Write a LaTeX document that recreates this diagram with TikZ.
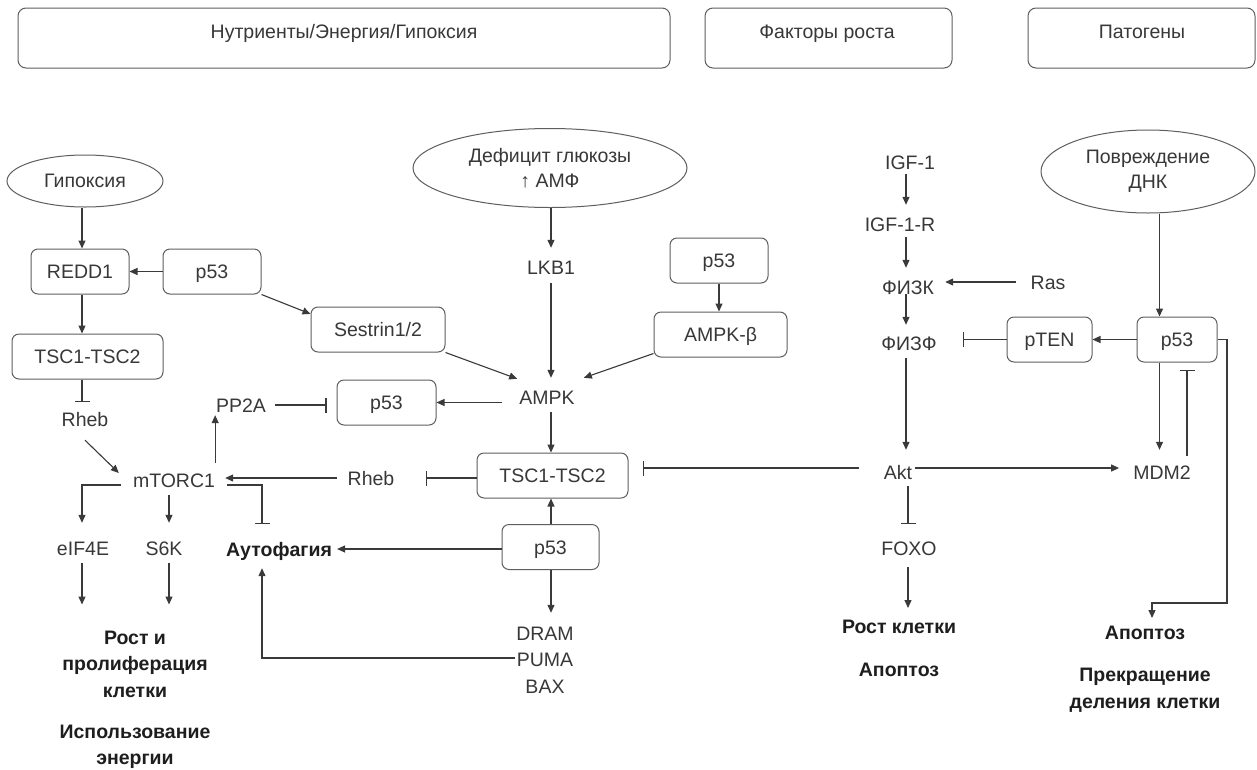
\documentclass[tikz,border=0pt]{standalone}
\usepackage{fontspec}
\setmainfont{Liberation Sans}
\usetikzlibrary{shapes.geometric,arrows.meta,calc}
\definecolor{txtc}{HTML}{383838}
\definecolor{btxt}{HTML}{1E1E1E}
\definecolor{linec}{HTML}{3A3A3A}
\definecolor{boxc}{HTML}{5E5E5E}
\newcommand\lblfont{\fontsize{19.5}{25}\selectfont}
\newcommand\blbfont{\fontsize{19.5}{26.5}\selectfont\bfseries}
\begin{document}
\begin{tikzpicture}[x=1pt,y=-1pt,
 box/.style={draw=boxc, rounded corners=7pt, line width=1pt, minimum height=45pt, inner sep=0pt, font=\lblfont, text=txtc, text height=14pt, text depth=0pt},
 topbox/.style={draw=boxc, rounded corners=8pt, line width=1pt, minimum height=60pt, inner sep=0pt},
 oval/.style={draw=boxc, ellipse, line width=1pt, inner sep=0pt, font=\lblfont, text=txtc, align=center},
 lab/.style={inner sep=0pt, font=\lblfont, text=txtc, text height=14pt, text depth=0pt},
 blab/.style={inner sep=0pt, font=\blbfont, text=btxt, align=center},
 act/.style={draw=linec, line width=1.1pt, -{Triangle[length=8pt,width=7pt]}},
 inh/.style={draw=linec, line width=1.1pt, -{Bar[width=15pt]}}]
\useasboundingbox (0,0) rectangle (1257,769);
\fill[white] (0,0) rectangle (1257,769);
% column coordinates
\coordinate (cL) at (82,0);
\coordinate (cS) at (169,0);
\coordinate (cA) at (262,0);
\coordinate (cM) at (551,0);
\coordinate (cR) at (906,0);
\coordinate (cF) at (908,0);
\coordinate (cP) at (1159.5,0);
\coordinate (cQ) at (1187,0);
\coordinate (turnR) at (1227,603);
% top boxes
\node[topbox, minimum width=652pt] (t1) at (344,38) {};
\node[lab] (t1l) at (344,31) {Нутриенты/Энергия/Гипоксия};
\node[topbox, minimum width=247pt] (t2) at (828.5,38) {};
\node[lab] (t2l) at (827,31) {Факторы роста};
\node[topbox, minimum width=227pt] (t3) at (1141.5,38) {};
\node[lab] (t3l) at (1142,31) {Патогены};
% left part
\node[oval, minimum width=156pt, minimum height=52pt] (hyp) at (85,181) {Гипоксия};
\node[box, minimum width=98pt] (redd1) at (80,271.5) {REDD1};
\node[box, minimum width=98pt] (p53a) at (212,271.5) {p53};
\node[box, minimum width=134pt] (sestrin) at (378,329.5) {Sestrin1/2};
\node[box, minimum width=151pt] (tscL) at (87.5,356.5) {TSC1-TSC2};
\node[lab] (rhebL) at (85,419) {Rheb};
\node[lab] (pp2a) at (241,405) {PP2A};
\node[box, minimum width=99pt] (p53b) at (386.5,402.5) {p53};
\node[lab] (mtorc1) at (174,480) {mTORC1};
\node[lab] (eif4e) at (83,548) {eIF4E};
\node[lab] (s6k) at (164,548) {S6K};
\node[blab] (growth1) at (135,664) {Рост и\\пролиферация\\клетки};
\node[blab] (energy) at (135,747) {Использование\\энергии};
\node[lab, font=\blbfont, text=btxt] (autoph) at (279,549) {Аутофагия};
% middle part
\node[oval, minimum width=274pt, minimum height=79pt] (glu) at (550,168) {Дефицит глюкозы\\↑ АМФ};
\node[lab] (lkb1) at (551,267) {LKB1};
\node[box, minimum width=98pt] (p53c) at (719,260.5) {p53};
\node[box, minimum width=133pt] (ampkb) at (720.5,334.5) {AMPK-β};
\node[lab] (ampk) at (547,397) {AMPK};
\node[box, minimum width=151pt] (tscM) at (552.5,475.5) {TSC1-TSC2};
\node[lab] (rhebM) at (371,478) {Rheb};
\node[box, minimum width=97pt] (p53d) at (550.5,547) {p53};
\node[lab] (dram) at (545,633) {DRAM};
\node[lab] (puma) at (545,659) {PUMA};
\node[lab] (bax) at (545,686) {BAX};
% right part
\node[lab] (igf1) at (910,162) {IGF-1};
\node[lab] (igf1r) at (900,224) {IGF-1-R};
\node[lab] (pi3k) at (908,287) {ФИЗК};
\node[lab] (ras) at (1048,282) {Ras};
\node[lab] (pip3) at (909,343) {ФИЗФ};
\node[box, minimum width=85pt] (pten) at (1049.5,339.5) {pTEN};
\node[box, minimum width=80pt] (p53e) at (1177,339.5) {p53};
\node[oval, minimum width=214pt, minimum height=83pt] (dna) at (1148,171.5) {Повреждение\\ДНК};
\node[lab] (akt) at (898,472) {Akt};
\node[lab] (mdm2) at (1162,472) {MDM2};
\node[lab] (foxo) at (909,548) {FOXO};
\node[blab] (growth2) at (899,627) {Рост клетки};
\node[blab] (apop1) at (899,670) {Апоптоз};
\node[blab] (apop2) at (1145,633) {Апоптоз};
\node[blab] (stop) at (1145,690) {Прекращение\\деления клетки};
% connectors left
\draw[act] (hyp.south -| cL) -- (redd1.north -| cL);
\draw[act] (p53a.west) -- (redd1.east);
\draw[act] (p53a.south east) -- (sestrin.167);
\draw[act] (redd1.south -| cL) -- (tscL.north -| cL);
\draw[inh, shorten >=10pt] (tscL.south -| cL) -- (rhebL.north -| cL);
\draw[act] ($(rhebL.south)+(0,14)$) -- ($(mtorc1.west)+(-14,-7)$);
\draw[act, shorten <=10pt, shorten >=3pt] (mtorc1.north east) -- (mtorc1.north east |- pp2a.south);
\draw[inh, shorten <=9pt, shorten >=10pt] (pp2a.east) -- (pp2a.east -| p53b.west);
\draw[act, shorten <=17pt] (p53b.east -| ampk.west) -- (p53b.east);
\draw[act] ($(mtorc1.west)+(-12,5)$) -| ($(eif4e.north -| cL)+(0,-18)$);
\draw[act, shorten <=8pt, shorten >=18pt] (mtorc1.south -| cS) -- (s6k.north -| cS);
\draw[act, shorten <=8pt, shorten >=26pt] (eif4e.south -| cL) -- (growth1.north -| cL);
\draw[act, shorten <=8pt, shorten >=26pt] (s6k.south -| cS) -- (growth1.north -| cS);
\draw[inh] ($(mtorc1.east)+(12,5)$) -| ($(cA |- autoph.north)+(0,-18)$);
% connectors middle
\draw[act, shorten >=12pt] (glu.south -| cM) -- (lkb1.north -| cM);
\draw[act, shorten <=9pt, shorten >=12pt] (lkb1.south -| cM) -- (ampk.north -| cM);
\draw[act] (sestrin.south east) -- ($(ampk.north west)+(-2,-11)$);
\draw[act] (p53c.south) -- (p53c.south |- ampkb.north);
\draw[act] ($(ampkb.south west)+(0,-4)$) -- ($(ampk.north east)+(9,-12)$);
\draw[act, shorten <=8pt] (ampk.south -| cM) -- (tscM.north -| cM);
\draw[inh, shorten >=31pt] (rhebM.east -| tscM.west) -- (rhebM.east);
\draw[act, shorten <=10pt, shorten >=10pt] (rhebM.west) -- (mtorc1.east |- rhebM.west);
\draw[act] (p53d.north -| cM) -- (tscM.south -| cM);
\draw[act, shorten >=5pt] (p53d.west |- autoph.east) -- (autoph.east);
\draw[act, shorten >=13pt] (p53d.south -| cM) -- (dram.north -| cM);
\draw[act] ($(puma.west)+(-2,-1)$) -| ($(cA |- autoph.south)+(0,12)$);
% connectors right
\draw[act, shorten <=5pt, shorten >=12pt] (igf1.south -| cR) -- (igf1r.north -| cR);
\draw[act, shorten <=6pt, shorten >=12pt] (igf1r.south -| cR) -- (pi3k.north -| cR);
\draw[act, shorten >=11pt] (pi3k.south -| cR) -- (pip3.north -| cR);
\draw[act, shorten <=14pt, shorten >=11pt] (ras.west) -- (pi3k.east |- ras.west);
\draw[inh, shorten >=26pt] (pten.west) -- (pip3.east |- pten.west);
\draw[act] (p53e.west) -- (pten.east);
\draw[act] (dna.south -| cP) -- (p53e.north -| cP);
\draw[act, shorten >=15pt] (p53e.south -| cP) -- (mdm2.north -| cP);
\draw[inh, shorten <=9pt, shorten >=7pt] (mdm2.north -| cQ) -- (p53e.south -| cQ);
\draw[act, shorten <=8pt, shorten >=15pt] (pip3.south -| cR) -- (akt.north -| cR);
\draw[inh, shorten <=25pt, shorten >=14pt] ($(akt.west)+(0,-4)$) -- ($(tscM.east |- akt.west)+(0,-4)$);
\draw[act, shorten <=3pt, shorten >=14pt] ($(akt.east)+(0,-4)$) -- ($(mdm2.west)+(0,-4)$);
\draw[inh, shorten <=7pt, shorten >=17pt] (akt.south -| cF) -- (foxo.north -| cF);
\draw[act, shorten <=12pt, shorten >=12pt] (foxo.south -| cF) -- (growth2.north -| cF);
\draw[act] (p53e.east) -| (turnR) -| ($(apop2.north)+(7,-8)$);
\end{tikzpicture}
\end{document}
